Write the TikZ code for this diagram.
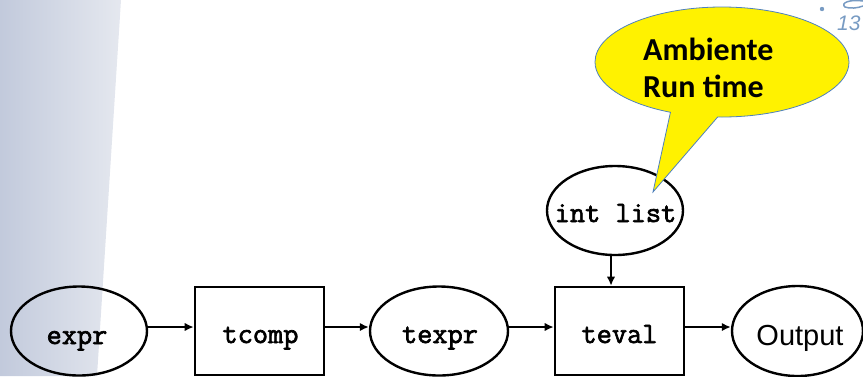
\documentclass[tikz,border=0pt]{standalone}
\usepackage{fontspec}
\setmainfont{Liberation Sans}
\newfontfamily\courfont{Latin Modern Mono}[FakeBold=2.2]
\newfontfamily\calib{Carlito}
\usetikzlibrary{shapes.geometric,shapes.callouts,arrows.meta}
\definecolor{stripL}{RGB}{194,202,220}
\definecolor{stripR}{RGB}{229,232,239}
\definecolor{callborder}{RGB}{79,129,189}
\definecolor{deco}{RGB}{120,155,195}
\begin{document}
\begin{tikzpicture}[x=1pt,y=-1pt,
  ell/.style={draw,ellipse,line width=2.4pt,minimum width=136pt,minimum height=89pt,inner sep=0pt},
  box/.style={draw,rectangle,line width=2.6pt,minimum width=129pt,minimum height=88pt,inner sep=0pt},
  mono/.style={font=\courfont\fontsize{29.5}{33}\selectfont,anchor=base,inner sep=0pt},
  calltext/.style={font=\calib\bfseries\fontsize{32}{37}\selectfont,anchor=base west,inner sep=0pt},
  arr/.style={line width=2.8pt,-{Latex[length=9pt,width=8.5pt]}}]
\useasboundingbox (0,0) rectangle (863,376);
\shade[left color=stripL,right color=stripR] (0,0) -- (121,0) -- (97,376) -- (0,376) -- cycle;
% decoration top right
\fill[deco] (822,9) circle (2.2pt);
\draw[deco,line width=1.5pt] (863,1) .. controls (850,-1) and (840,3) .. (845,7) .. controls (850,9) and (858,8) .. (863,6);
\node[text=deco,font=\itshape\fontsize{21}{23}\selectfont,anchor=base west,inner sep=0pt] (pg) at (837,30) {13};
% shapes
\node[ell] (expr) at (79,331) {};
\node[box] (tcomp) at (259.5,331) {};
\node[ell,minimum width=138pt] (texpr) at (439,331) {};
\node[box] (teval) at (619.5,331) {};
\node[ell,minimum width=131pt,minimum height=90pt] (out) at (797.5,331) {};
\node[ell] (intl) at (615,210.5) {};
% labels
\node[mono] (exprT) at (77,344) {expr};
\node[mono] (tcompT) at (260.5,343) {tcomp};
\node[mono] (texprT) at (440,343) {texpr};
\node[mono] (tevalT) at (619.5,343) {teval};
\node[mono] (intlT) at (615.5,222) {int list};
\node[font=\fontsize{29}{34}\selectfont,anchor=base,inner sep=0pt] (outT) at (800,345) {Output};
% connectors
\draw[arr] ([yshift=4pt]expr.east) -- ([yshift=4pt]tcomp.west);
\draw[arr] ([yshift=4pt]tcomp.east) -- ([yshift=4pt]texpr.west);
\draw[arr] ([yshift=4pt]texpr.east) -- ([yshift=4pt]teval.west);
\draw[arr] ([yshift=4pt]teval.east) -- ([yshift=4pt]out.west);
\draw[arr] ([xshift=-4pt]intl.south) -- ([xshift=-4pt]intl.south |- teval.north);
% callout
\node[ellipse callout,draw=callborder,line width=0.8pt,fill=yellow,minimum width=254pt,minimum height=110pt,
      callout absolute pointer={(653,192)},callout pointer arc=22] (call) at (722,62) {};
\node[calltext] (callA) at (643,60) {Ambiente};
\node[calltext] (callB) at (643,97) {Run time};
\end{tikzpicture}
\end{document}
